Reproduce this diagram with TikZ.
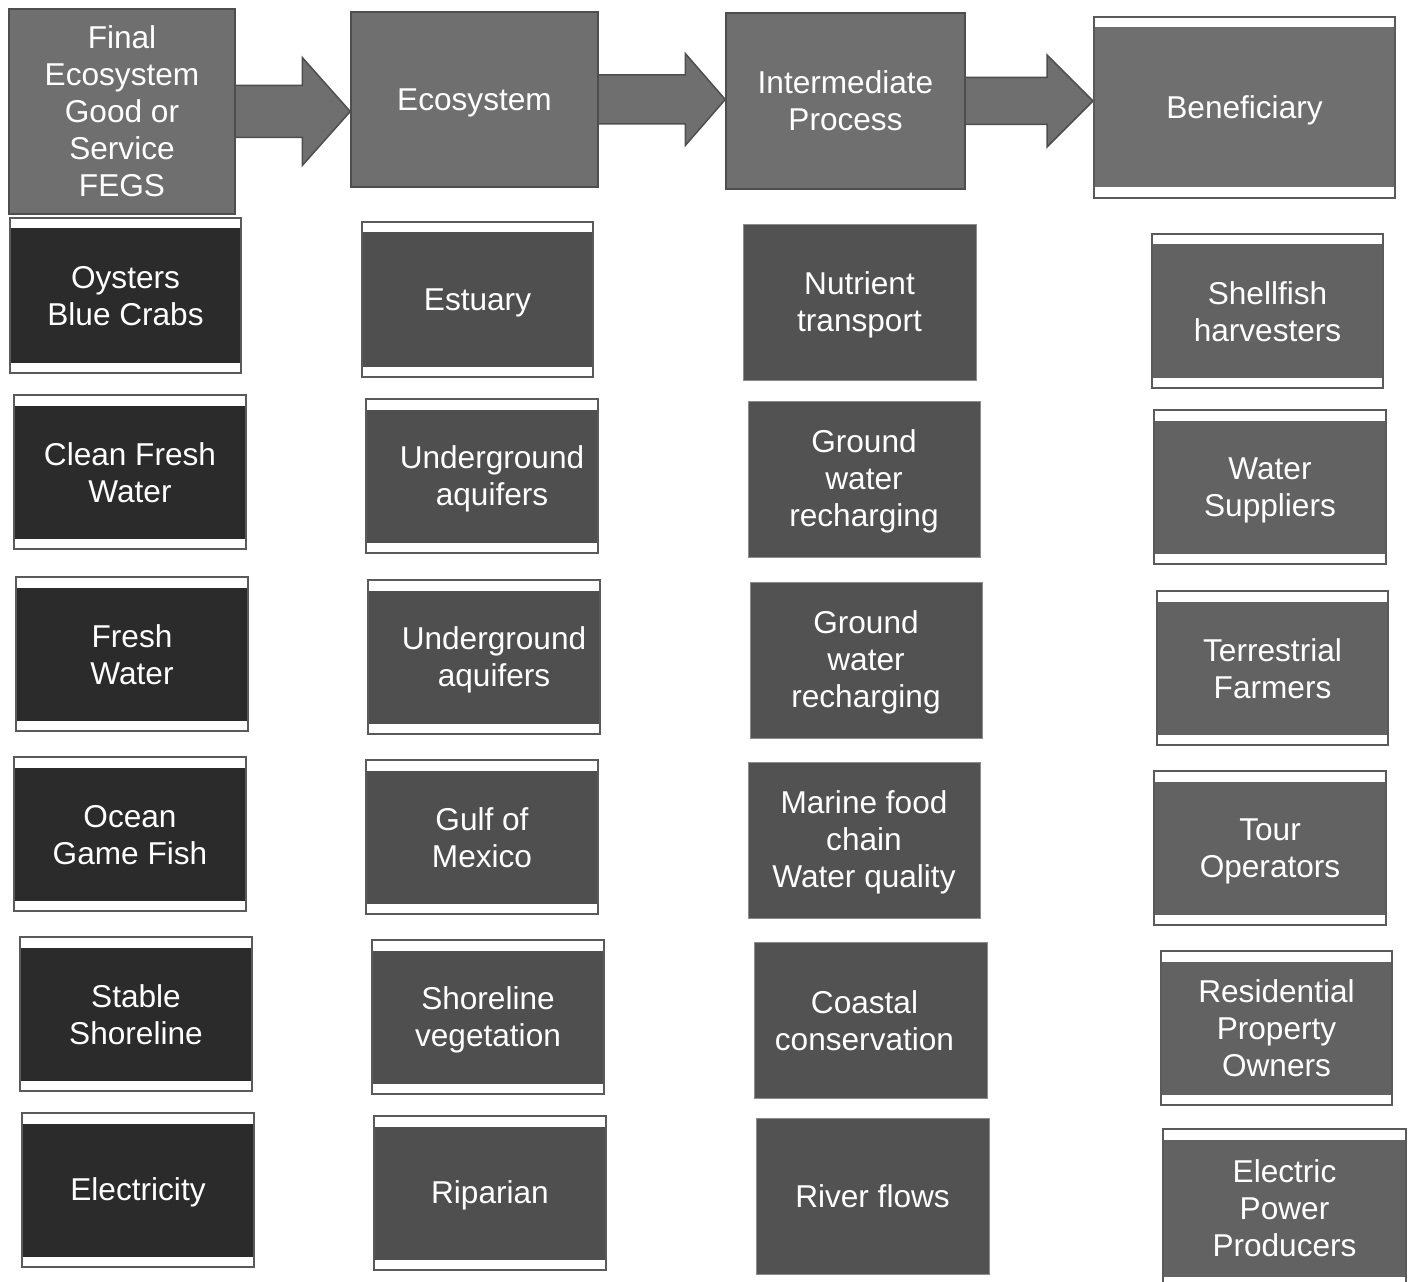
\documentclass[tikz,border=0pt]{standalone}
\usepackage{fontspec}
\setmainfont{Liberation Sans}
\usetikzlibrary{backgrounds,calc}
\definecolor{hdr}{HTML}{6F6F6F}
\definecolor{hdrline}{HTML}{4E4E4E}
\definecolor{edge}{HTML}{5A5A5A}
\definecolor{cone}{HTML}{2B2B2B}
\definecolor{ctwo}{HTML}{4F4F4F}
\definecolor{cthree}{HTML}{525252}
\definecolor{cthreeline}{HTML}{8C8C8C}
\definecolor{cfour}{HTML}{626262}
\tikzset{
  base/.style={rectangle, inner sep=0pt},
  txt/.style={inner sep=0pt, text=white, align=center,
    font=\fontsize{31.6}{37}\selectfont},
  hdrbox/.style={base, fill=hdr, draw=hdrline, line width=1.5pt},
  stripbox/.style={base, fill=white, draw=edge, line width=2pt,
    path picture={\fill[#1] ([yshift=-10.5pt]path picture bounding box.north west)
      rectangle ([yshift=10.5pt]path picture bounding box.south east);}},
  plainbox/.style={base, fill=cthree, draw=cthreeline, line width=0.8pt},
  arrowsty/.style={fill=hdr, draw=hdrline, line width=1.5pt, line join=miter}
}
% style, name, x1, y1, x2, y2, text x-offset, text
\newcommand\cell[8]{%
  \node[#1, minimum width={(#5-#3)*1pt}, minimum height={(#6-#4)*1pt}] (#2) at ({(#3+#5)/2},{(#4+#6)/2}) {};
  \node[txt] (#2-t) at ([xshift=#7pt]#2.center) {\rule{0pt}{28pt}#8\rule[-5pt]{0pt}{5pt}};}
\newcommand\harrow[5]{%
  \draw[arrowsty] let \p1=(#1.east), \p2=(#2.west) in
  ({\x1-3pt},{\y1+#3pt}) -- ({\x2-#5pt},{\y1+#3pt}) -- ({\x2-#5pt},{\y1+#4pt})
  -- ({\x2},{\y1}) -- ({\x2-#5pt},{\y1-#4pt}) -- ({\x2-#5pt},{\y1-#3pt})
  -- ({\x1-3pt},{\y1-#3pt}) -- cycle;}
\begin{document}
\begin{tikzpicture}[x=1pt,y=-1pt]
\useasboundingbox (0,0) rectangle (1412,1281);
% headers
\cell{hdrbox}{h1}{9}{9}{235}{214}{0}{Final\\Ecosystem\\Good or\\Service\\FEGS}
\cell{hdrbox}{h2}{351}{12}{598}{187}{0}{Ecosystem}
\cell{hdrbox}{h3}{726}{13}{965}{189}{0}{Intermediate\\Process}
\cell{stripbox=hdr}{h4}{1094}{17}{1395}{198}{0}{Beneficiary}
% column 1
\cell{stripbox=cone}{a1}{10}{218}{241}{373}{0}{Oysters\\Blue Crabs}
\cell{stripbox=cone}{a2}{14}{395}{246}{549}{0}{Clean Fresh\\Water}
\cell{stripbox=cone}{a3}{16}{577}{248}{731}{0}{Fresh\\Water}
\cell{stripbox=cone}{a4}{14}{757}{246}{911}{0}{Ocean\\Game Fish}
\cell{stripbox=cone}{a5}{20}{937}{252}{1091}{0}{Stable\\Shoreline}
\cell{stripbox=cone}{a6}{22}{1113}{254}{1267}{0}{Electricity}
% column 2
\cell{stripbox=ctwo}{b1}{362}{222}{593}{377}{0}{Estuary}
\cell{stripbox=ctwo}{b2}{366}{399}{598}{553}{10}{Underground\\aquifers}
\cell{stripbox=ctwo}{b3}{368}{580}{600}{734}{10}{Underground\\aquifers}
\cell{stripbox=ctwo}{b4}{366}{760}{598}{914}{0}{Gulf of\\Mexico}
\cell{stripbox=ctwo}{b5}{372}{940}{604}{1094}{0}{Shoreline\\vegetation}
\cell{stripbox=ctwo}{b6}{374}{1116}{606}{1270}{0}{Riparian}
% column 3
\cell{plainbox}{c1}{743}{224}{976}{380}{0}{Nutrient\\transport}
\cell{plainbox}{c2}{748}{401}{980}{557}{0}{Ground\\water\\recharging}
\cell{plainbox}{c3}{750}{582}{982}{738}{0}{Ground\\water\\recharging}
\cell{plainbox}{c4}{748}{762}{980}{918}{0}{Marine food\\chain\\Water quality}
\cell{plainbox}{c5}{754}{942}{987}{1098}{-6}{Coastal\\conservation}
\cell{plainbox}{c6}{756}{1118}{989}{1274}{0}{River flows}
% column 4
\cell{stripbox=cfour}{d1}{1152}{234}{1383}{388}{0}{Shellfish\\harvesters}
\cell{stripbox=cfour}{d2}{1154}{410}{1386}{564}{0}{Water\\Suppliers}
\cell{stripbox=cfour}{d3}{1157}{591}{1388}{745}{0}{Terrestrial\\Farmers}
\cell{stripbox=cfour}{d4}{1154}{771}{1386}{925}{0}{Tour\\Operators}
\cell{stripbox=cfour}{d5}{1161}{951}{1392}{1105}{0}{Residential\\Property\\Owners}
\cell{stripbox=cfour}{d6}{1163}{1129}{1406}{1287}{0}{Electric\\Power\\Producers}
% arrows
\begin{scope}[on background layer]
\fill[white] (0,0) rectangle (1412,1281);
\harrow{h1}{h2}{26}{54}{48}
\harrow{h2}{h3}{24.5}{46}{40}
\harrow{h3}{h4}{23.5}{46}{46}
\end{scope}
\end{tikzpicture}
\end{document}
